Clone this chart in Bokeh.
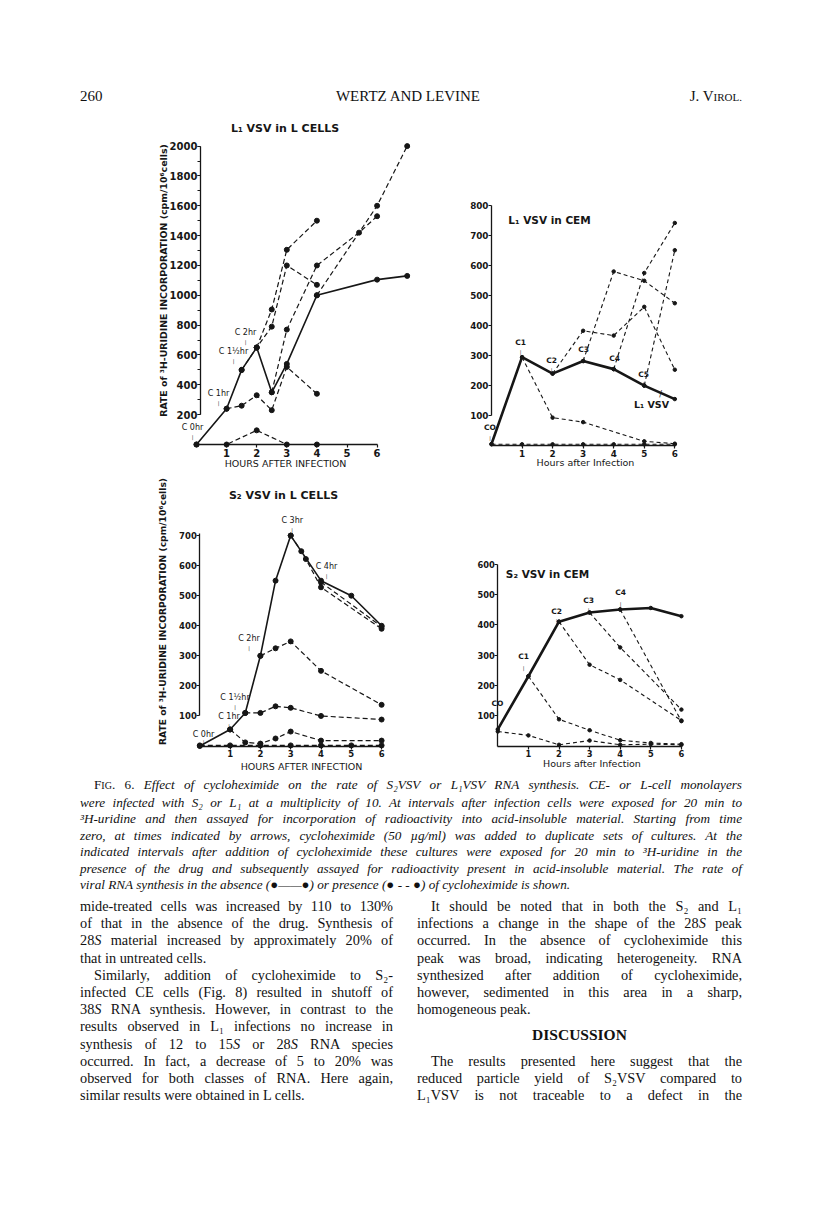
import math
from bokeh.plotting import figure
from bokeh.models import Range1d, FixedTicker, Label, Div
from bokeh.layouts import column, row
from bokeh.embed import file_html
from bokeh.resources import INLINE

INK = "#161616"

# ---------------- data ----------------
# Panel A: L1 VSV in L cells  (cpm / 10^6 cells)
a_ctrl_x = [0, 1, 1.5, 2, 2.5, 3, 4, 6, 7]
a_ctrl_y = [0, 240, 500, 650, 350, 540, 1000, 1105, 1130]
a_c0_x = [0, 1, 2, 3, 4]
a_c0_y = [0, 0, 95, 0, 0]
a_c1_x = [1, 1.5, 2, 2.5, 3, 4]
a_c1_y = [240, 260, 330, 230, 520, 340]
a_c15_x = [1.5, 2, 2.5, 3, 4]
a_c15_y = [500, 650, 790, 1200, 1070]
a_c2_x = [2, 2.5, 3, 4]
a_c2_y = [650, 905, 1305, 1500]
a_c25_x = [2.5, 3, 4, 5.4, 6]
a_c25_y = [350, 770, 1200, 1420, 1530]
a_c4_x = [4, 6, 7]
a_c4_y = [1000, 1600, 2000]

# Panel B: L1 VSV in CEM
b_ctrl_x = [0, 1, 2, 3, 4, 5, 6]
b_ctrl_y = [5, 295, 240, 282, 255, 200, 155]
b_c0_x = [0, 1, 2, 3, 4, 5, 6]
b_c0_y = [4, 4, 4, 4, 4, 4, 4]
b_c1_x = [1, 2, 3, 5, 6]
b_c1_y = [295, 93, 78, 14, 6]
b_c2_x = [2, 3, 4, 5, 6]
b_c2_y = [240, 383, 367, 463, 253]
b_c3_x = [3, 4, 5, 6]
b_c3_y = [282, 581, 550, 475]
b_c4_x = [4, 5, 6]
b_c4_y = [255, 576, 743]
b_c5_x = [5, 6]
b_c5_y = [200, 652]

# Panel C: S2 VSV in L cells
c_ctrl_x = [0, 1, 1.5, 2, 2.5, 3, 4, 5, 6]
c_ctrl_y = [0, 55, 110, 300, 550, 700, 550, 500, 400]
c_c0_x = [0, 1, 2, 3, 4, 5, 6]
c_c0_y = [2, 2, 2, 2, 2, 2, 2]
c_c1_x = [1, 1.5, 2, 2.5, 3, 4, 6]
c_c1_y = [55, 12, 8, 25, 48, 18, 18]
c_c15_x = [1.5, 2, 2.5, 3, 4, 6]
c_c15_y = [110, 110, 132, 127, 100, 88]
c_c2_x = [2, 2.5, 3, 4, 6]
c_c2_y = [300, 325, 348, 250, 137]
c_c3_x = [3, 3.35, 3.5, 4, 6]
c_c3_y = [700, 648, 622, 528, 390]
c_c4_x = [4, 6]
c_c4_y = [545, 397]

# Panel D: S2 VSV in CEM
d_ctrl_x = [0, 1, 2, 3, 4, 5, 6]
d_ctrl_y = [55, 230, 410, 440, 450, 455, 428]
d_c0_x = [0, 1, 2, 3, 4, 5, 6]
d_c0_y = [48, 35, 4, 18, 4, 6, 4]
d_c1_x = [1, 2, 3, 4, 5, 6]
d_c1_y = [230, 88, 52, 19, 10, 6]
d_c2_x = [2, 3, 4, 6]
d_c2_y = [410, 268, 218, 84]
d_c3_x = [3, 4, 6]
d_c3_y = [440, 325, 120]
d_c4_x = [4, 6]
d_c4_y = [450, 82]

hour_ticks = [1, 2, 3, 4, 5, 6]
a_yticks = [200, 400, 600, 800, 1000, 1200, 1400, 1600, 1800, 2000]
a_yminor = list(range(200, 2001, 100))
b_yticks = [100, 200, 300, 400, 500, 600, 700, 800]
c_yticks = [100, 200, 300, 400, 500, 600, 700]
d_yticks = [100, 200, 300, 400, 500, 600]


# ---------------- helpers ----------------
class Panel:
    def __init__(self, W, H, left, top, x0px, sx, y0px, sy, ybounds, yticks, yminor=None,
                 tick_size="9px", yaxis_at=0.0):
        self.x0px, self.sx, self.y0px, self.sy = x0px, sx, y0px, sy
        xs = -(x0px - left) / sx
        ys = -(top + H - y0px) / sy
        p = figure(width=W, height=H, x_range=Range1d(xs, xs + W / sx),
                   y_range=Range1d(ys, ys + H / sy), output_backend="svg",
                   toolbar_location=None, min_border=0)
        p.outline_line_color = None
        p.xgrid.visible = False
        p.ygrid.visible = False
        p.background_fill_color = "white"
        p.border_fill_color = "white"
        p.xaxis.fixed_location = 0
        p.yaxis.fixed_location = yaxis_at
        p.xaxis.bounds = (0, 6)
        p.yaxis.bounds = ybounds
        p.xaxis.ticker = FixedTicker(ticks=hour_ticks)
        p.yaxis.ticker = FixedTicker(ticks=yticks, minor_ticks=yminor or [])
        for ax in (p.xaxis, p.yaxis):
            ax.axis_line_color = INK
            ax.axis_line_width = 1.3
            ax.major_tick_line_color = INK
            ax.major_tick_line_width = 1.2
            ax.major_tick_in = 0
            ax.major_tick_out = 3
            ax.minor_tick_line_color = INK
            ax.minor_tick_line_width = 1.2
            ax.minor_tick_in = 0
            ax.minor_tick_out = 3
            ax.major_label_text_font = "DejaVu Sans"
            ax.major_label_text_font_style = "bold"
            ax.major_label_text_font_size = tick_size
            ax.major_label_text_color = INK
        p.xaxis.minor_tick_line_color = None
        p.xaxis.major_label_standoff = 1
        p.yaxis.major_label_standoff = 0
        self.p = p

    def dx(self, px):
        return (px - self.x0px) / self.sx

    def dy(self, py):
        return (self.y0px - py) / self.sy

    def label(self, px, py, text, size="8px", bold=False, angle=0.0, font="DejaVu Sans"):
        self.p.add_layout(Label(x=self.dx(px), y=self.dy(py), text=text, angle=angle,
                                text_align="center", text_baseline="middle",
                                text_font=font, text_font_size=size,
                                text_font_style="bold" if bold else "normal",
                                text_color=INK))

    def clabel(self, px, py, text, size="8px", bold=False, arrow=9):
        # label with the small arrow stroke underneath it
        self.label(px, py, text, size=size, bold=bold)
        self.label(px, py + arrow, "|", size="5px")

    def dashed(self, xs, ys, dot, lw=1.2, dash="5 3"):
        self.p.line(xs, ys, line_color=INK, line_width=lw, line_dash=dash)
        self.p.scatter(xs, ys, size=dot, color=INK)

    def solid(self, xs, ys, dot, lw):
        self.p.line(xs, ys, line_color=INK, line_width=lw)
        self.p.scatter(xs, ys, size=dot, color=INK)


Y_TITLE = "RATE of \u00b3H-URIDINE INCORPORATION (cpm/10\u2076cells)"

# ---------------- Panel A ----------------
A = Panel(438, 366, 0, 110, 196, 30.1, 444, 0.1492, (200, 2000), a_yticks, a_yminor,
          tick_size="10px", yaxis_at=0.13)
for xs, ys in [(a_c0_x, a_c0_y), (a_c1_x, a_c1_y), (a_c15_x, a_c15_y), (a_c2_x, a_c2_y),
               (a_c25_x, a_c25_y), (a_c4_x, a_c4_y)]:
    A.dashed(xs, ys, 5)
A.solid(a_ctrl_x, a_ctrl_y, 5, 1.6)
A.label(284.5, 128, "L\u2081 VSV in L CELLS", size="11px", bold=True)
A.label(162.7, 280, Y_TITLE, size="9.4px", bold=True, angle=math.pi / 2)
A.label(285, 463, "HOURS AFTER INFECTION", size="9.5px")
A.clabel(192, 427, "C 0hr")
A.clabel(218, 393, "C 1hr")
A.clabel(233, 351, "C 1\u00bdhr")
A.clabel(245, 332, "C 2hr")

# ---------------- Panel B ----------------
B = Panel(378, 366, 438, 110, 491, 30.55, 445, 0.2995, (100, 800), b_yticks, tick_size="8.8px")
for xs, ys in [(b_c0_x, b_c0_y), (b_c1_x, b_c1_y), (b_c2_x, b_c2_y), (b_c3_x, b_c3_y),
               (b_c4_x, b_c4_y), (b_c5_x, b_c5_y)]:
    B.dashed(xs, ys, 3.5, lw=1.1, dash="4 3")
B.solid(b_ctrl_x, b_ctrl_y, 3.5, 2.6)
B.label(549, 219, "L\u2081 VSV in CEM", size="10.5px", bold=True)
B.label(585, 462, "Hours after Infection", size="9.5px")
B.clabel(489.5, 427, "CO", size="7.5px", bold=True, arrow=10)
B.clabel(520, 342, "C1", size="7.5px", bold=True)
B.clabel(551, 360, "C2", size="7.5px", bold=True)
B.clabel(583, 349, "C3", size="7.5px", bold=True)
B.clabel(614, 358, "C4", size="7.5px", bold=True)
B.clabel(643, 374, "C5", size="7.5px", bold=True)
B.label(651, 404, "L\u2081 VSV", size="9.5px", bold=True)
B.label(660, 394, "/", size="8px")

# ---------------- Panel C ----------------
C = Panel(438, 302, 0, 476, 199.3, 30.3, 745.5, 0.3006, (100, 706), c_yticks, tick_size="8.5px")
for xs, ys in [(c_c0_x, c_c0_y), (c_c1_x, c_c1_y), (c_c15_x, c_c15_y), (c_c2_x, c_c2_y),
               (c_c3_x, c_c3_y), (c_c4_x, c_c4_y)]:
    C.dashed(xs, ys, 5)
C.solid(c_ctrl_x, c_ctrl_y, 5, 1.6)
C.label(283, 495, "S\u2082 VSV in L CELLS", size="11px", bold=True)
C.label(161.7, 611, Y_TITLE, size="9.2px", bold=True, angle=math.pi / 2)
C.label(301, 766, "HOURS AFTER INFECTION", size="9.5px")
C.clabel(203, 734, "C 0hr", arrow=7)
C.clabel(228.5, 716, "C 1hr")
C.clabel(234.5, 697, "C 1\u00bdhr")
C.clabel(248.5, 638, "C 2hr")
C.clabel(291.7, 520, "C 3hr")
C.clabel(326, 566, "C 4hr")

# ---------------- Panel D ----------------
D = Panel(378, 302, 438, 476, 497.3, 30.6, 745.5, 0.3033, (0, 600), d_yticks, tick_size="8.3px")
for xs, ys in [(d_c0_x, d_c0_y), (d_c1_x, d_c1_y), (d_c2_x, d_c2_y), (d_c3_x, d_c3_y),
               (d_c4_x, d_c4_y)]:
    D.dashed(xs, ys, 3.5, lw=1.1, dash="4 3")
D.solid(d_ctrl_x, d_ctrl_y, 3.5, 2.6)
D.label(547, 573, "S\u2082 VSV in CEM", size="10.5px", bold=True)
D.label(591.5, 763, "Hours after Infection", size="9.5px")
D.clabel(497, 703, "CO", size="7.5px", bold=True)
D.clabel(523, 656, "C1", size="7.5px", bold=True, arrow=11)
D.clabel(556, 611, "C2", size="7.5px", bold=True)
D.clabel(588, 600, "C3", size="7.5px", bold=True)
D.clabel(620, 592, "C4", size="7.5px", bold=True, arrow=11)

# ---------------- text blocks ----------------
header_html = """
<div style="position:relative;width:816px;height:110px;font-family:'Liberation Serif';
font-size:15px;color:#111;line-height:16px;">
<div style="position:absolute;left:80px;top:88px;">260</div>
<div style="position:absolute;left:0;top:88px;width:816px;text-align:center;">WERTZ AND LEVINE</div>
<div style="position:absolute;right:74px;top:88px;">J. V<span style="font-size:11px;">IROL.</span></div>
</div>
"""

J = "text-align:justify;text-align-last:justify;"
L = "text-align:left;"

cap_lines = [
    ('<span style="font-style:normal;">F<span style="font-size:10px;">IG</span>. 6.</span> '
     'Effect of cycloheximide on the rate of S\u2082VSV or L\u2081VSV RNA synthesis. CE- or L-cell monolayers', True, 14),
    ('were infected with S\u2082 or L\u2081 at a multiplicity of 10. At intervals after infection cells were exposed for 20 min to', True, 0),
    ('\u00b3H-uridine and then assayed for incorporation of radioactivity into acid-insoluble material. Starting from time', True, 0),
    ('zero, at times indicated by arrows, cycloheximide (50 \u00b5g/ml) was added to duplicate sets of cultures. At the', True, 0),
    ('indicated intervals after addition of cycloheximide these cultures were exposed for 20 min to \u00b3H-uridine in the', True, 0),
    ('presence of the drug and subsequently assayed for radioactivity present in acid-insoluble material. The rate of', True, 0),
    ('viral RNA synthesis in the absence (\u25cf\u2014\u2014\u25cf) or presence (\u25cf - - \u25cf) of cycloheximide is shown.', False, 0),
]


def block(lines):
    out = []
    for txt, just, indent in lines:
        st = (J if just else L) + f"padding-left:{indent}px;"
        out.append(f'<div style="{st}">{txt}</div>')
    return "\n".join(out)


caption_html = f"""
<div style="position:relative;width:816px;height:118px;font-family:'Liberation Serif';
font-size:13.2px;font-style:italic;color:#111;line-height:16.5px;">
<div style="position:absolute;left:80px;top:-1px;width:662px;">
{block(cap_lines)}
</div></div>
"""

left_lines = [
    ("mide-treated cells was increased by 110 to 130%", True, 0),
    ("of that in the absence of the drug. Synthesis of", True, 0),
    ("28<i>S</i> material increased by approximately 20% of", True, 0),
    ("that in untreated cells.", False, 0),
    ("Similarly, addition of cycloheximide to S\u2082-", True, 14),
    ("infected CE cells (Fig. 8) resulted in shutoff of", True, 0),
    ("38<i>S</i> RNA synthesis. However, in contrast to the", True, 0),
    ("results observed in L\u2081 infections no increase in", True, 0),
    ("synthesis of 12 to 15<i>S</i> or 28<i>S</i> RNA species", True, 0),
    ("occurred. In fact, a decrease of 5 to 20% was", True, 0),
    ("observed for both classes of RNA. Here again,", True, 0),
    ("similar results were obtained in L cells.", False, 0),
]
right_top = [
    ("It should be noted that in both the S\u2082 and L\u2081", True, 14),
    ("infections a change in the shape of the 28<i>S</i> peak", True, 0),
    ("occurred. In the absence of cycloheximide this", True, 0),
    ("peak was broad, indicating heterogeneity. RNA", True, 0),
    ("synthesized after addition of cycloheximide,", True, 0),
    ("however, sedimented in this area in a sharp,", True, 0),
    ("homogeneous peak.", False, 0),
]
right_bottom = [
    ("The results presented here suggest that the", True, 14),
    ("reduced particle yield of S\u2082VSV compared to", True, 0),
    ("L\u2081VSV is not traceable to a defect in the", True, 0),
]

body_html = f"""
<div style="position:relative;width:816px;height:235px;font-family:'Liberation Serif';
font-size:14.3px;color:#111;line-height:17.2px;">
<div style="position:absolute;left:80px;top:4px;width:313px;">
{block(left_lines)}
</div>
<div style="position:absolute;left:417px;top:4px;width:325px;">
{block(right_top)}
<div style="text-align:center;font-weight:bold;font-size:15.5px;line-height:34.4px;">DISCUSSION</div>
{block(right_bottom)}
</div></div>
"""

header = Div(text=header_html, width=816, height=110, margin=(0, 0, 0, 0))
caption = Div(text=caption_html, width=816, height=116, margin=(0, 0, 0, 0))
body = Div(text=body_html, width=816, height=235, margin=(0, 0, 0, 0))

layout = column(header, row(A.p, B.p), row(C.p, D.p), caption, body)

open("out.html", "w").write(file_html(layout, INLINE, "Fig. 6"))
